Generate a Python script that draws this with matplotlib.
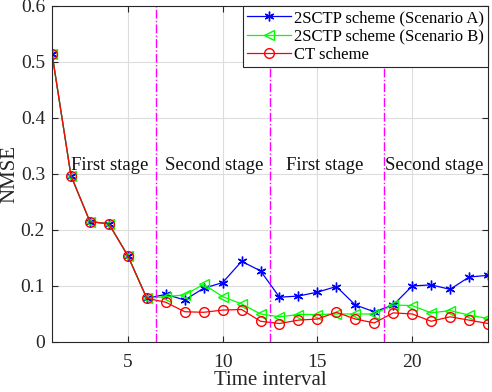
import matplotlib
matplotlib.use('Agg')
import matplotlib.pyplot as plt
import numpy as np

plt.rcParams['font.family'] = ['Liberation Serif', 'DejaVu Serif']
plt.rcParams['mathtext.fontset'] = 'stix'

# Data
t = np.arange(1, 25)
nmse_a = [0.515, 0.297, 0.215, 0.211, 0.154, 0.078, 0.085, 0.075, 0.096, 0.106, 0.144, 0.127,
          0.080, 0.082, 0.089, 0.099, 0.066, 0.054, 0.066, 0.100, 0.102, 0.094, 0.116, 0.119]
nmse_b = [0.515, 0.297, 0.215, 0.211, 0.154, 0.078, 0.081, 0.084, 0.103, 0.081, 0.068, 0.050,
          0.045, 0.049, 0.049, 0.050, 0.050, 0.050, 0.066, 0.065, 0.052, 0.056, 0.048, 0.042]
nmse_ct = [0.515, 0.297, 0.215, 0.211, 0.154, 0.078, 0.071, 0.054, 0.053, 0.057, 0.058, 0.037,
           0.033, 0.039, 0.041, 0.053, 0.041, 0.034, 0.052, 0.050, 0.037, 0.045, 0.039, 0.033]
stage_bounds = [6.5, 12.5, 18.5]
stage_labels = ['First stage', 'Second stage', 'First stage', 'Second stage']
stage_label_x = [4.05, 9.55, 15.4, 21.15]

fig = plt.figure(figsize=(4.92, 3.92), dpi=100)
ax = fig.add_axes([0.1057, 0.1276, 0.8862, 0.8571])

ax.plot(t, nmse_a, color='blue', marker=(6, 2, 0), markersize=7, markeredgewidth=1.0, lw=0.9,
        label='2SCTP scheme (Scenario A)')
ax.plot(t, nmse_b, color='#00ff00', marker='<', markersize=7.5, markerfacecolor='none', lw=0.9,
        label='2SCTP scheme (Scenario B)')
ax.plot(t, nmse_ct, color='red', marker='o', markersize=7, markerfacecolor='none', lw=0.9, label='CT scheme')

for xb in stage_bounds:
    ax.axvline(xb, color='magenta', linestyle='-.', lw=1.0)

for xl, s in zip(stage_label_x, stage_labels):
    ax.text(xl, 0.315, s, ha='center', va='center', fontsize=13.5, color='#111111')

ax.set_xlim(1, 24)
ax.set_ylim(0, 0.6)
ax.set_xticks([5, 10, 15, 20])
ax.set_yticks(np.arange(0, 0.61, 0.1))
ax.set_yticklabels(['0', '0.1', '0.2', '0.3', '0.4', '0.5', '0.6'])
ax.grid(True, color='#dddddd', lw=0.8)
ax.set_axisbelow(True)
ax.tick_params(direction='in', top=True, right=True, labelsize=14, colors='#262626', length=4)
ax.tick_params(axis='x', pad=9)
ax.tick_params(axis='y', pad=5)
for sp in ax.spines.values():
    sp.set_color('#262626')
    sp.set_linewidth(0.8)
ax.set_xlabel('Time interval', fontsize=15, color='#262626', labelpad=0)
ax.set_ylabel('NMSE', fontsize=15, color='#262626', labelpad=1)

leg = ax.legend(loc='upper right', fontsize=12, fancybox=False, edgecolor='#262626',
                framealpha=1, borderaxespad=0, handlelength=2.6, handletextpad=0.2,
                borderpad=0.25, labelspacing=0.15)
leg.get_frame().set_linewidth(0.8)

fig.savefig('out.png', dpi=100)
